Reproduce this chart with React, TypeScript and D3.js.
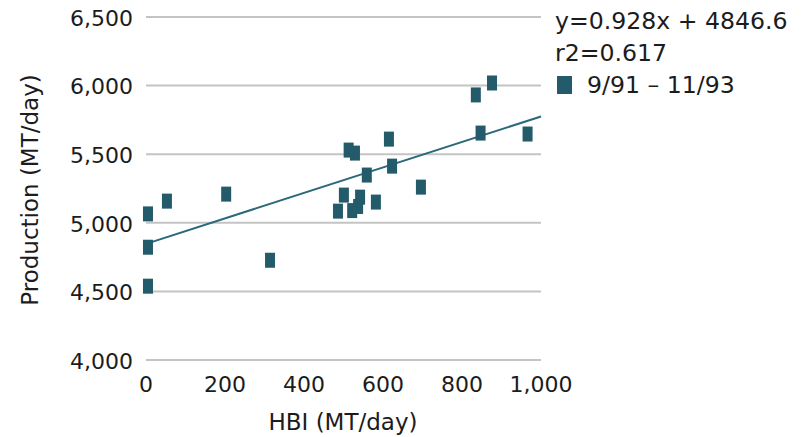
import React from "react";
import * as d3 from "d3";

const hbi = [5, 5, 5, 53, 203, 314, 486, 501, 513, 522, 529, 537, 542, 559, 582, 615, 623, 696, 835, 847, 876, 966];
const production = [5065, 4822, 4538, 5158, 5209, 4727, 5085, 5202, 5530, 5089, 5508, 5119, 5187, 5348, 5151, 5610, 5413, 5260, 5932, 5654, 6019, 5647];
const xTicks = [0, 200, 400, 600, 800, 1000];
const yTicks = [4000, 4500, 5000, 5500, 6000, 6500];
const slope = 0.928;
const intercept = 4846.6;
const legendLines = ["y=0.928x + 4846.6", "r2=0.617"];
const seriesName = "9/91 – 11/93";

const W = 802;
const H = 437;
const FONT = "'DejaVu Sans', sans-serif";
const MARK = "#235b6a";
const LINE = "#2b687a";
const TXT = "#1c1c1c";

export default function App() {
  const x = d3.scaleLinear().domain([0, 1000]).range([146, 541]);
  const y = d3.scaleLinear().domain([4000, 6500]).range([360, 17]);
  const fmt = d3.format(",");
  const reg = d3
    .line<number>()
    .x((d) => x(d))
    .y((d) => y(slope * d + intercept));
  const data = hbi.map((v, i) => ({ x: v, y: production[i] }));
  return (
    <div style={{ position: "absolute", left: 0, top: 0 }}>
      <svg width={W} height={H} style={{ display: "block", background: "#fff" }} fontFamily={FONT}>
        {yTicks.map((t) => (
          <g key={t}>
            <line x1={x(0)} x2={x(1000)} y1={y(t)} y2={y(t)} stroke="#c4c4c4" strokeWidth={2} />
            <text x={133} y={y(t)} dy="0.4em" textAnchor="end" fontSize={22} fill={TXT}>
              {fmt(t)}
            </text>
          </g>
        ))}
        {xTicks.map((t) => (
          <text key={t} x={x(t)} y={392} textAnchor="middle" fontSize={22} fill={TXT}>
            {fmt(t)}
          </text>
        ))}
        <path d={reg([0, 1000]) || ""} stroke={LINE} strokeWidth={2} fill="none" />
        {data.map((d, i) => (
          <rect key={i} x={x(d.x) - 5} y={y(d.y) - 7.5} width={10} height={15} fill={MARK} />
        ))}
        <text x={343} y={430} textAnchor="middle" fontSize={23} fill={TXT}>
          HBI (MT/day)
        </text>
        <text
          transform={`translate(38,190) rotate(-90)`}
          textAnchor="middle"
          fontSize={23}
          fill={TXT}
        >
          Production (MT/day)
        </text>
        {legendLines.map((l, i) => (
          <text key={l} x={555} y={29 + i * 31.5} fontSize={23.6} fill={TXT}>
            {l}
          </text>
        ))}
        <rect x={557} y={76} width={15} height={18} fill={MARK} />
        <text x={587} y={92.5} fontSize={23.6} fill={TXT}>
          {seriesName}
        </text>
      </svg>
    </div>
  );
}
